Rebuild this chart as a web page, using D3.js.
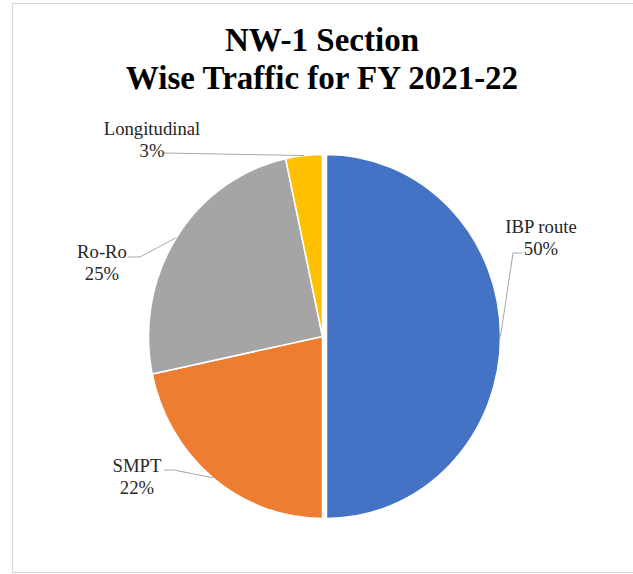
<!DOCTYPE html>
<html>
<head>
<meta charset="utf-8">
<script src="https://cdn.jsdelivr.net/npm/d3@7"></script>
<style>
  body { margin: 0; background: #fff; }
  svg { display: block; }
  text { font-family: "Liberation Serif", "DejaVu Serif", "Times New Roman", Times, serif; }
</style>
</head>
<body>
<svg id="chart" width="633" height="574"></svg>
<script>
// data
var categories = ["IBP route", "SMPT", "Ro-Ro", "Longitudinal"];
var shares = [50.0, 21.7, 24.9, 3.4];
var pctLabels = ["50%", "22%", "25%", "3%"];
var colors = ["#4472C4", "#ED7D31", "#A5A5A5", "#FFC000"];

// where each data label sits (text centre/baseline, leader start, elbow dir)
var labelPlace = [
    { tx: 541, ty: 233, lx: 522, ly: 253, dx: -9 },
    { tx: 137, ty: 472, lx: 164, ly: 470, dx: 10 },
    { tx: 102, ty: 258, lx: 128, ly: 257, dx: 12 },
    { tx: 152, ty: 135, lx: 164, ly: 153, dx: 0 }
];

var svg = d3.select("#chart");
var W = 633, H = 574;
var serif = "'Liberation Serif', 'DejaVu Serif', serif";

// chart area border
svg.append("rect")
    .attr("x", 12.5).attr("y", 3.5)
    .attr("width", W).attr("height", 569)
    .attr("fill", "#fff")
    .attr("stroke", "#d9d9d9")
    .attr("stroke-width", 1);

// title
var title = svg.append("text")
    .attr("text-anchor", "middle")
    .attr("font-family", serif)
    .attr("font-weight", "bold")
    .attr("font-size", 33)
    .attr("fill", "#000");
title.append("tspan").attr("x", 322).attr("y", 51).text("NW-1 Section");
title.append("tspan").attr("x", 322).attr("y", 89).text("Wise Traffic for FY 2021-22");

var cx = 322.5, cy = 336.5, rx = 174, ry = 182;
var explode = 4;

var data = categories.map(function (c, i) {
    return { name: c, value: shares[i], pct: pctLabels[i], color: colors[i], place: labelPlace[i] };
});

var pie = d3.pie()
    .value(function (d) { return d.value; })
    .sort(null);
var arcs = pie(data);

var arc = d3.arc().innerRadius(0).outerRadius(rx);

var g = svg.append("g")
    .attr("transform", "translate(" + cx + "," + cy + ") scale(1," + (ry / rx) + ")");

g.selectAll("path")
    .data(arcs)
    .enter().append("path")
    .attr("d", arc)
    .attr("fill", function (d) { return d.data.color; })
    .attr("stroke", "#fff")
    .attr("stroke-width", 1.5)
    .attr("transform", function (d, i) {
        if (i != 0) return null;
        var a = (d.startAngle + d.endAngle) / 2;
        return "translate(" + (Math.sin(a) * explode) + "," + (-Math.cos(a) * explode) + ")";
    });

// leader lines
function edgePoint(d, i) {
    var a = (d.startAngle + d.endAngle) / 2;
    var off = i == 0 ? explode : 0;
    return [cx + Math.sin(a) * (rx + off), cy - Math.cos(a) * ry];
}

svg.append("g").selectAll("path")
    .data(arcs)
    .enter().append("path")
    .attr("fill", "none")
    .attr("stroke", "#a6a6a6")
    .attr("stroke-width", 1)
    .attr("d", function (d, i) {
        var p = d.data.place;
        var e = edgePoint(d, i);
        return d3.line()([[p.lx, p.ly], [p.lx + p.dx, p.ly], e]);
    });

// labels
var labels = svg.append("g").selectAll("text")
    .data(arcs)
    .enter().append("text")
    .attr("text-anchor", "middle")
    .attr("font-family", serif)
    .attr("font-size", 18.7)
    .attr("fill", "#262626");
labels.append("tspan")
    .attr("x", function (d) { return d.data.place.tx; })
    .attr("y", function (d) { return d.data.place.ty; })
    .text(function (d) { return d.data.name; });
labels.append("tspan")
    .attr("x", function (d) { return d.data.place.tx; })
    .attr("dy", 22)
    .text(function (d) { return d.data.pct; });
</script>
</body>
</html>
